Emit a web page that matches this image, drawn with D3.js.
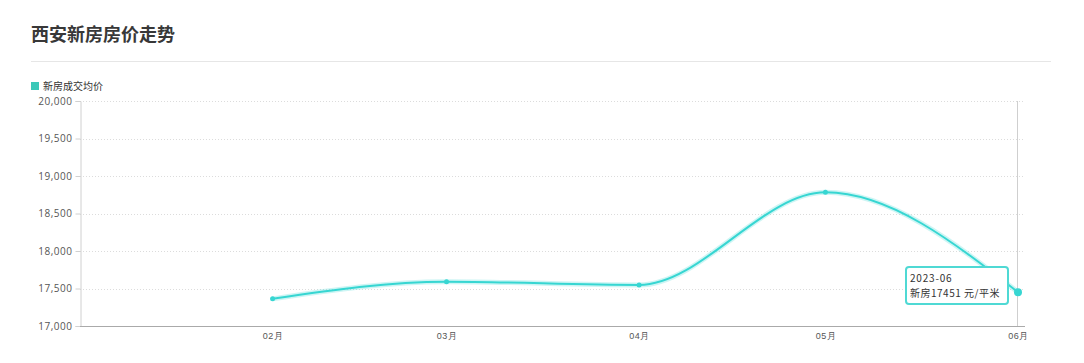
<!DOCTYPE html>
<html>
<head>
<meta charset="utf-8">
<script src="https://cdn.jsdelivr.net/npm/d3@7"></script>
<style>
  body { margin: 0; background: #fff; font-family: "Noto Sans CJK SC", "Open Sans", sans-serif; }
  svg { display: block; }
</style>
</head>
<body>
<svg id="chart"></svg>
<script>
// data
var months = ["2023-02", "2023-03", "2023-04", "2023-05", "2023-06"];
var prices = [17362, 17590, 17547, 18783, 17451];
var yTicks = [17000, 17500, 18000, 18500, 19000, 19500, 20000];
var title = "西安新房房价走势",
    seriesName = "新房成交均价",
    unit = "元/平米";

var W = 1084, H = 363,
    lineColor = "#37d6d2",
    legendColor = "#3cc8b8";

var parse = d3.timeParse("%Y-%m");
var data = months.map(function (m, i) { return { date: parse(m), label: m, value: prices[i] }; });

var svg = d3.select("#chart").attr("width", W).attr("height", H);

// header
svg.append("text")
    .attr("x", 31).attr("y", 41)
    .attr("font-size", 18).attr("font-weight", "bold")
    .attr("fill", "#383838")
    .text(title);
svg.append("line")
    .attr("x1", 31).attr("x2", 1051).attr("y1", 61.5).attr("y2", 61.5)
    .attr("stroke", "#e6e6e6");

// legend
svg.append("rect")
    .attr("x", 31).attr("y", 82).attr("width", 8).attr("height", 8)
    .attr("fill", legendColor);
svg.append("text")
    .attr("x", 43).attr("y", 90)
    .attr("font-size", 10).attr("fill", "#333")
    .text(seriesName);

var x = d3.scaleTime()
    .domain([parse("2023-01"), parse("2023-06")])
    .range([80, 1018]);
var y = d3.scaleLinear()
    .domain([17000, 20000])
    .range([326, 101]);

// grid
svg.append("g").selectAll("line")
    .data(yTicks.slice(1))
    .join("line")
    .attr("x1", 80).attr("x2", 1024)
    .attr("y1", function (d) { return Math.round(y(d)) + 0.5; })
    .attr("y2", function (d) { return Math.round(y(d)) + 0.5; })
    .attr("stroke", "#dcdcdc")
    .attr("stroke-dasharray", "1,2");

// y axis
var yAxis = svg.append("g")
    .attr("transform", "translate(80.5,0)")
    .call(d3.axisLeft(y).tickValues(yTicks).tickFormat(d3.format(",")).tickSize(5).tickPadding(3));
yAxis.select(".domain").attr("stroke", "#d0d0d0");
yAxis.selectAll(".tick line").attr("stroke", "#d0d0d0");
yAxis.selectAll("text").attr("font-size", 10).attr("fill", "#555")
    .attr("letter-spacing", 0.5)
    .attr("font-family", "'Open Sans', sans-serif");

// x axis
var xAxis = svg.append("g")
    .attr("transform", "translate(0,326.5)")
    .call(d3.axisBottom(x).tickValues(data.map(function (d) { return d.date; }))
        .tickFormat(d3.timeFormat("%m月")).tickSize(0).tickPadding(6));
xAxis.select(".domain").attr("d", "M80,0H1025").attr("stroke", "#aaa");
xAxis.selectAll("text").attr("font-size", 9).attr("fill", "#555").attr("letter-spacing", 0.5);

// hover crosshair at last point
var last = data[data.length - 1];
svg.append("line")
    .attr("x1", x(last.date) - 0.5).attr("x2", x(last.date) - 0.5)
    .attr("y1", 101).attr("y2", 326)
    .attr("stroke", "#cfcfcf");

// line
var line = d3.line()
    .x(function (d) { return x(d.date); })
    .y(function (d) { return y(d.value); })
    .curve(d3.curveMonotoneX);

svg.append("path")
    .datum(data)
    .attr("d", line)
    .attr("fill", "none")
    .attr("stroke", lineColor)
    .attr("stroke-opacity", 0.25)
    .attr("stroke-width", 5);
svg.append("path")
    .datum(data)
    .attr("d", line)
    .attr("fill", "none")
    .attr("stroke", lineColor)
    .attr("stroke-width", 2);

svg.append("g").selectAll("circle")
    .data(data)
    .join("circle")
    .attr("cx", function (d) { return x(d.date); })
    .attr("cy", function (d) { return y(d.value); })
    .attr("r", function (d, i) { return i === data.length - 1 ? 4 : 2.5; })
    .attr("fill", lineColor);

// tooltip
var tip = svg.append("g").attr("transform", "translate(906,267)");
tip.append("rect")
    .attr("width", 102).attr("height", 37).attr("rx", 3)
    .attr("fill", "#fff")
    .attr("stroke", "#4fd9d4").attr("stroke-width", 2);
tip.append("text")
    .attr("x", 4).attr("y", 15)
    .attr("font-size", 10).attr("fill", "#333")
    .attr("letter-spacing", 0.8)
    .text(last.label);
tip.append("text")
    .attr("x", 4).attr("y", 30)
    .attr("font-size", 10).attr("fill", "#333")
    .attr("letter-spacing", 0.5)
    .text("新房" + last.value + " " + unit);
</script>
</body>
</html>
